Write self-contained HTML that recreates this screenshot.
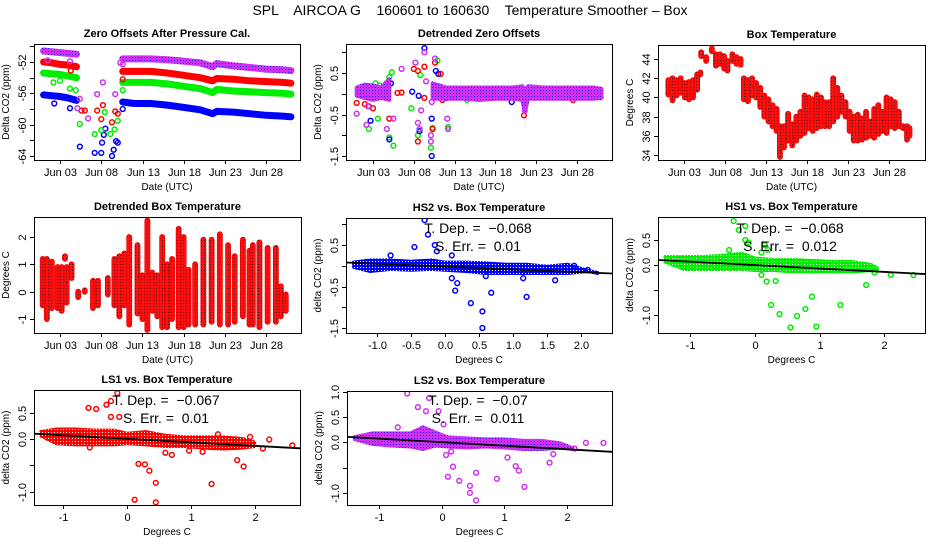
<!DOCTYPE html>
<html><head><meta charset="utf-8"><style>
html,body{margin:0;padding:0;background:#fff}
svg{display:block;font-family:"Liberation Sans",sans-serif}
</style></head><body>
<svg id="chart" width="936" height="540" viewBox="0 0 936 540" xmlns="http://www.w3.org/2000/svg">
<defs>
<pattern id="pPurple" width="3" height="3" patternUnits="userSpaceOnUse"><rect width="3" height="3" fill="#d030f0"/><rect width="1" height="1" fill="#2020ff"/></pattern>
<pattern id="pRedDark" width="3" height="3" patternUnits="userSpaceOnUse"><rect width="3" height="3" fill="#ff1010"/><rect width="1" height="1" fill="#300"/></pattern>
<pattern id="pBlue" width="3" height="3" patternUnits="userSpaceOnUse"><rect width="3" height="3" fill="#0000ff"/><rect width="1" height="1" fill="#fff"/></pattern>
<pattern id="pGreen" width="3" height="3" patternUnits="userSpaceOnUse"><rect width="3" height="3" fill="#00ee00"/><rect width="1" height="1" fill="#fff"/></pattern>
<pattern id="pRed" width="3" height="3" patternUnits="userSpaceOnUse"><rect width="3" height="3" fill="#ff0000"/><rect width="1" height="1" fill="#fff"/></pattern>
<pattern id="pMag" width="3" height="3" patternUnits="userSpaceOnUse"><rect width="3" height="3" fill="#d030f0"/><rect width="1" height="1" fill="#2020ff"/></pattern>
</defs>
<text x="470" y="15" font-size="14" text-anchor="middle" style="white-space:pre">SPL    AIRCOA G    160601 to 160630    Temperature Smoother – Box</text>
</svg>
<script>
// ---------- Panel 1: Zero offsets ----------
const p1Days1 = [1, 2, 3, 4, 5];
const p1Days2 = [10.6, 12, 14, 16, 18, 20, 21.5, 22, 24, 26, 28, 30, 31];
const p1Purple1 = [-50.6, -50.7, -50.8, -50.9, -51.0];
const p1Purple2 = [-51.6, -51.6, -51.6, -51.7, -51.9, -52.1, -52.6, -52.2, -52.5, -52.7, -52.9, -53.0, -53.1];
const p1Red1 = [-52.0, -52.1, -52.3, -52.4, -52.6];
const p1Red2 = [-53.2, -53.2, -53.2, -53.4, -53.7, -54.0, -54.4, -54.1, -54.2, -54.4, -54.5, -54.6, -54.7];
const p1Green1 = [-53.4, -53.5, -53.6, -53.8, -54.0];
const p1Green2 = [-54.6, -54.6, -54.6, -54.8, -55.1, -55.4, -55.9, -55.5, -55.7, -55.8, -55.9, -56.0, -56.1];
const p1Blue1 = [-56.2, -56.3, -56.4, -56.6, -56.9];
const p1Blue2 = [-57.1, -57.3, -57.3, -57.5, -57.8, -58.1, -58.6, -58.3, -58.4, -58.6, -58.8, -58.9, -59.0];
const p1PurpleOutD = [1.5, 4.2, 5.1, 5.4, 6.4, 7.5, 8.2, 9.7, 10.3, 10.6];
const p1PurpleOutV = [-51.8, -51.9, -57.9, -56.7, -59.2, -56.1, -54.6, -56.1, -52.1, -52.3];
const p1RedOutD = [4.3, 5.6, 6.0, 7.5, 8.0, 8.2, 9.3, 9.7, 10.0, 10.6];
const p1RedOutV = [-53.1, -58.2, -58.2, -58.2, -59.3, -57.5, -59.7, -58.3, -58.6, -54.2];
const p1GreenOutD = [2.2, 3.0, 4.2, 4.9, 5.4, 7.2, 8.0, 8.4, 9.1, 9.6, 10.0, 10.6];
const p1GreenOutV = [-54.6, -54.4, -55.4, -55.6, -59.9, -61.2, -60.7, -58.4, -61.2, -60.6, -59.5, -55.6];
const p1BlueOutD = [2.3, 4.2, 5.4, 7.2, 8.0, 8.1, 8.3, 8.5, 9.3, 9.5, 9.8, 10.0, 10.6];
const p1BlueOutV = [-57.3, -57.9, -62.8, -63.6, -63.6, -62.3, -61.3, -60.5, -64.0, -63.2, -62.1, -62.3, -58.0];
// ---------- Panel 2: detrended zero offsets ----------
const p2BandDays = [1, 2, 3, 4, 5, null, 10.3, 12, 14, 16, 18, 20, 21.3, 21.6, 22, 24, 26, 28, 30, 31];
const p2BandLo = [-0.05, -0.1, -0.15, -0.1, -0.15, null, -0.12, -0.12, -0.12, -0.15, -0.12, -0.12, -0.15, -0.45, -0.12, -0.12, -0.12, -0.12, -0.12, -0.1];
const p2BandHi = [0.15, 0.22, 0.2, 0.15, 0.35, null, 0.25, 0.15, 0.15, 0.15, 0.15, 0.15, 0.18, 0.1, 0.18, 0.15, 0.15, 0.15, 0.15, 0.12];
const p2RedD = [1.0, 2.0, 2.5, 3.0, 5.0, 6.0, 6.5, 8.0, 8.5, 8.5, 9.3, 9.3, 10.3, 10.5, 10.6, 11.3, 11.5, 21.5, 24, 27.5];
const p2RedV = [-0.22, -0.25, -0.3, -0.35, -0.6, 0.02, 0.03, 0.6, 0.55, -1.15, 0.65, -0.1, -0.85, 0.05, 0.75, 0.48, -0.15, -0.52, 0.0, -0.15];
const p2GreenD = [2.5, 3.3, 3.8, 3.6, 5.0, 5.3, 5.0, 5.5, 7.7, 8.8, 8.5, 10.1, 10.3, 10.9, 12.2, 14.5];
const p2GreenV = [-0.85, 0.25, 0.2, -0.6, 0.4, 0.52, -1.05, -1.25, -0.35, 0.45, -1.0, -1.3, -0.82, 0.8, -0.8, -0.15];
const p2BlueD = [2.7, 5.0, 5.2, 7.8, 8.6, 8.7, 9.3, 10.2, 10.2, 10.7, 11.0, 12.0, 20];
const p2BlueV = [-0.65, -1.1, 0.25, 0.05, -0.05, -0.9, 1.1, -1.5, -0.6, 0.55, 0.48, -0.1, -0.2];
const p2PurpleD = [1.0, 2.2, 2.4, 4.7, 5.5, 6.5, 8.2, 8.5, 8.7, 8.9, 9.3, 9.5, 10.1, 10.1, 10.2, 10.6, 12.1, 12.2, 21.6];
const p2PurpleV = [-0.48, -0.75, -0.3, -0.85, -0.6, 0.6, 0.75, -0.7, -0.85, -0.4, 1.0, 0.3, -1.0, -1.15, -0.2, 0.85, -0.6, -0.85, -0.4];
// ---------- Panel 3: box temperature ----------
const p3Days = [1.1,1.6,2.1,2.6,3.1,3.6,4.1,4.6,5.0,5.1,5.7,6.4,6.9,7.4,7.9,8.3,8.9,9.4,9.9,10.3,10.8,11.3,11.8,12.3,12.8,13.3,13.8,14.3,14.7,15.2,15.7,16.2,16.7,17.2,17.7,18.2,18.7,19.2,19.7,20.2,20.7,21.2,21.7,22.2,22.7,23.2,23.7,24.2,24.7,25.2,25.7,26.2,26.7,27.2,27.7,28.2,28.7,29.2,29.7,30.2,30.5];
const p3Lo = [40.3,39.7,40.2,40.5,40.0,39.8,40.0,40.8,42.4,44.3,43.8,44.8,43.3,43.5,43.0,42.8,43.8,43.5,43.4,39.8,39.6,40.2,40.0,39.0,38.0,37.5,37.0,36.5,33.8,34.8,35.5,35.0,35.5,36.0,36.3,36.8,36.5,36.8,37.0,37.0,37.0,37.5,38.0,38.5,38.0,36.5,35.5,35.5,35.6,35.8,36.0,35.8,36.2,36.5,36.3,37.0,36.8,37.0,36.8,35.6,36.0];
const p3Hi = [41.8,42.0,41.8,42.0,41.5,41.6,41.8,42.4,42.6,44.7,44.2,45.1,44.5,44.5,44.3,43.8,44.5,44.2,44.0,42.0,41.8,42.0,41.5,41.0,40.2,39.8,39.2,38.8,37.0,37.0,38.3,37.2,38.0,38.5,40.2,40.0,39.8,40.3,40.0,39.5,39.5,42.0,41.0,40.2,39.5,38.5,38.0,38.2,37.8,38.5,37.5,38.8,39.2,38.5,40.0,39.8,39.5,38.5,37.0,37.0,36.8];
// ---------- Panel 4: detrended box temperature ----------
const p4Days = [0.9,1.4,2.0,2.7,3.2,3.6,3.8,4.4,5.2,6.0,7.0,7.6,8.8,9.6,10.2,10.8,11.4,12.4,13.0,13.6,14.2,14.8,15.4,16.0,16.6,17.4,18.0,18.6,19.4,20.4,21.4,22.4,23.4,24.2,25.2,26.0,26.4,27.2,28.2,29.2,29.8,30.4];
const p4Lo = [-0.5,-1.0,-0.6,-0.6,-0.7,1.2,-0.4,0.5,-0.2,0.0,-0.6,-0.5,-0.1,-0.5,-0.9,-0.5,-1.2,-0.8,-1.0,-1.4,-0.7,-0.9,-1.3,-1.3,-1.0,-1.3,-1.3,-1.2,-1.2,-1.2,-1.1,-1.2,-1.2,-1.1,-0.9,-1.2,-1.2,-1.3,-1.1,-1.1,-0.9,-0.7];
const p4Hi = [1.2,1.2,1.1,0.9,0.9,1.3,0.9,1.0,0.0,0.05,0.4,0.4,0.5,1.2,1.3,1.4,2.0,1.7,0.6,2.6,0.7,0.6,2.0,1.0,1.2,2.3,2.0,0.8,1.0,1.9,1.9,2.1,1.7,1.3,1.9,1.5,1.7,1.8,1.6,1.6,0.2,-0.1];
// ---------- Scatter panels ----------
const hs2BandX = [-1.35,-1.1,-0.8,-0.5,-0.2,0,0.3,0.6,0.9,1.2,1.5,1.8,2.1,2.25];
const hs2BandLo = [-0.05,-0.15,-0.1,-0.12,-0.1,-0.12,-0.15,-0.2,-0.2,-0.2,-0.2,-0.2,-0.15,-0.2];
const hs2BandHi = [0.1,0.15,0.15,0.12,0.15,0.1,0.1,0.08,0.05,0.05,0.0,0.05,-0.1,-0.15];
const hs2OutX = [-0.3,-0.25,-0.45,-0.15,-0.8,0.1,-0.12,0.1,0.15,0.18,0.38,0.55,0.55,0.68,1.2,1.15,1.62,1.9,2.1,0.6];
const hs2OutY = [1.1,0.75,0.45,0.5,0.25,0.25,0.35,-0.3,-0.6,-0.42,-0.9,-1.1,-1.5,-0.65,-0.75,-0.3,-0.35,0.0,-0.1,-0.25];
const hs1BandX = [-1.4,-1.1,-0.8,-0.5,-0.2,0,0.3,0.6,0.9,1.2,1.5,1.8,1.9];
const hs1BandLo = [0.05,-0.1,-0.1,-0.1,-0.1,-0.12,-0.12,-0.15,-0.15,-0.15,-0.15,-0.12,-0.1];
const hs1BandHi = [0.18,0.18,0.18,0.2,0.25,0.15,0.12,0.12,0.1,0.08,0.08,0.02,-0.05];
const hs1OutX = [-0.33,-0.25,-0.15,-0.15,-0.1,0.15,-0.4,0.2,0.1,0.1,0.18,0.32,0.25,0.38,0.55,0.65,0.78,0.88,0.95,1.32,1.72,2.1,2.45,1.85];
const hs1OutY = [0.88,0.7,0.78,0.5,0.45,0.4,0.3,0.3,0.25,-0.2,-0.33,-0.32,-0.8,-0.98,-1.25,-1.02,-0.88,-0.63,-1.23,-0.8,-0.4,-0.2,-0.2,-0.15];
const ls1BandX = [-1.35,-1.1,-0.8,-0.5,-0.2,0,0.3,0.6,0.9,1.2,1.5,1.8,2.0];
const ls1BandLo = [0.05,-0.1,-0.12,-0.12,-0.12,-0.1,-0.12,-0.15,-0.15,-0.18,-0.2,-0.18,-0.15];
const ls1BandHi = [0.15,0.2,0.2,0.18,0.18,0.12,0.15,0.08,0.05,0.05,0.05,0.02,-0.05];
const ls1OutX = [-0.15,-0.25,-0.32,-0.6,-0.48,-0.25,-0.12,0.18,0.28,0.35,0.45,0.12,0.45,1.32,1.72,1.82,0.6,0.7,0.97,1.18,2.12,2.22,2.58,1.42,1.92,-0.58];
const ls1OutY = [0.87,0.72,0.65,0.59,0.57,0.42,0.42,-0.47,-0.48,-0.6,-0.83,-1.15,-1.2,-0.85,-0.4,-0.52,-0.26,-0.3,-0.22,-0.24,-0.18,-0.01,-0.12,0.09,0.04,-0.16];
const ls2BandX = [-1.4,-1.1,-0.8,-0.5,-0.3,-0.1,0.1,0.4,0.7,1.0,1.3,1.6,1.9,2.1];
const ls2BandLo = [0.05,-0.05,-0.08,-0.1,-0.15,-0.08,-0.1,-0.12,-0.1,-0.12,-0.15,-0.15,-0.12,-0.15];
const ls2BandHi = [0.12,0.2,0.2,0.2,0.32,0.22,0.12,0.1,0.08,0.08,0.05,0.05,0.0,-0.1];
const ls2OutX = [-0.55,-0.38,-0.2,-0.25,-0.05,0.03,-0.7,0.07,0.15,0.18,0.1,0.28,0.45,0.45,0.55,0.55,0.88,1.05,1.18,1.23,1.32,1.72,1.78,2.3,2.58,2.12];
const ls2OutY = [0.97,0.7,0.88,0.62,0.62,0.36,0.3,-0.25,-0.18,-0.48,-0.68,-0.76,-0.86,-1.0,-0.6,-1.15,-0.72,-0.3,-0.47,-0.56,-0.88,-0.4,-0.23,-0.01,-0.01,-0.12];
const fitSlopes = [-0.068, -0.068, -0.067, -0.07];
const fitIntercepts = [-0.02, -0.002, 0.005, 0.005];
const fitLabels = ["−0.068", "−0.068", "−0.067", "−0.07"];
const errLabels = ["0.01", "0.012", "0.01", "0.011"];
const dateTicks = [3, 8, 13, 18, 23, 28];
const dateTickLabels = ["Jun 03", "Jun 08", "Jun 13", "Jun 18", "Jun 23", "Jun 28"];

const svg = document.getElementById('chart');
const NS = 'http://www.w3.org/2000/svg';
function mk(tag, attrs, parent) {
  const e = document.createElementNS(NS, tag);
  for (const k in attrs) e.setAttribute(k, attrs[k]);
  (parent || svg).appendChild(e);
  return e;
}
function panel(bx0, bx1, by0, by1, xmin, xmax, ymin, ymax) {
  return {bx0, bx1, by0, by1,
    sx: v => bx0 + (v - xmin) / (xmax - xmin) * (bx1 - bx0),
    sy: v => by1 - (v - ymin) / (ymax - ymin) * (by1 - by0)};
}
function frame(p, name, title, xlab, ylab, yTicks, yLabs, xTicks, xLabs) {
  const g = mk('g', {});
  
  
  const clip = mk('clipPath', {id: 'c-' + name}, g);
  mk('rect', {x: p.bx0, y: p.by0, width: p.bx1 - p.bx0, height: p.by1 - p.by0}, clip);
  const inner = mk('g', {'clip-path': 'url(#c-' + name + ')'}, g);
  
  
  const box = mk('rect', {x: p.bx0 + 0.5, y: p.by0 + 0.5, width: p.bx1 - p.bx0, height: p.by1 - p.by0, fill: 'none', stroke: '#000', 'stroke-width': 1});
  
  
  const t = mk('text', {x: (p.bx0 + p.bx1) / 2, y: p.by0 - 7, 'font-size': 11, 'font-weight': 'bold', 'text-anchor': 'middle'}, g);
  t.textContent = title;
  
  
  const xl = mk('text', {x: (p.bx0 + p.bx1) / 2, y: p.by1 + 30, 'font-size': 10, 'text-anchor': 'middle'}, g);
  xl.textContent = xlab;
  
  
  const yc = (p.by0 + p.by1) / 2;
  const yl = mk('text', {x: p.bx0 - 25, y: yc, 'font-size': 10, 'text-anchor': 'middle', transform: 'rotate(-90 ' + (p.bx0 - 25) + ' ' + yc + ')'}, g);
  yl.textContent = ylab;
  
  
  yTicks.forEach((v, i) => {
    const y = Math.round(p.sy(v)) + 0.5;
    mk('line', {x1: p.bx0 - 4, x2: p.bx0, y1: y, y2: y, stroke: '#000'}, g);
    if (yLabs[i] !== '') {
      const tx = mk('text', {x: p.bx0 - 8, y: y, 'font-size': 11, 'text-anchor': 'middle', transform: 'rotate(-90 ' + (p.bx0 - 8) + ' ' + y + ')'}, g);
      tx.textContent = yLabs[i];
      
      
    }
  });
  xTicks.forEach((v, i) => {
    const x = Math.round(p.sx(v)) + 0.5;
    mk('line', {x1: x, x2: x, y1: p.by1, y2: p.by1 + 4, stroke: '#000'}, g);
    const tx = mk('text', {x: x, y: p.by1 + 16, 'font-size': 11, 'text-anchor': 'middle'}, g);
    tx.textContent = xLabs[i];
    
    
  });
  return inner;
}
function dots(g, p, xs, ys, color, name) {
  xs.forEach((x, i) => {
    const c = mk('circle', {cx: p.sx(x), cy: p.sy(ys[i]), r: 2.4, fill: 'none', stroke: color, 'stroke-width': 1.5}, g);
    
    
  });
}
function thick(g, p, xs, ys, color, w, name) {
  const pts = xs.map((x, i) => p.sx(x).toFixed(1) + ',' + p.sy(ys[i]).toFixed(1)).join(' ');
  const l = mk('polyline', {points: pts, fill: 'none', stroke: color, 'stroke-width': w, 'stroke-linejoin': 'round', 'stroke-linecap': 'round'}, g);
  
  
  dots(g, p, xs, ys, color, name + '-point');
}
function band(g, p, xs, lo, hi, fill, name, sw) {
  let segs = [[]];
  xs.forEach((x, i) => { if (x === null) segs.push([]); else segs[segs.length - 1].push(i); });
  segs.forEach(s => {
    if (!s.length) return;
    const top = s.map(i => p.sx(xs[i]).toFixed(1) + ',' + p.sy(hi[i]).toFixed(1));
    const bot = s.slice().reverse().map(i => p.sx(xs[i]).toFixed(1) + ',' + p.sy(lo[i]).toFixed(1));
    const pg = mk('polygon', {points: top.concat(bot).join(' '), fill: fill, stroke: fill, 'stroke-width': sw, 'stroke-linejoin': 'round'}, g);
    
    
  });
}
function columns(g, p, xs, lo, hi, fill, name) {
  xs.forEach((x, i) => {
    const y1 = p.sy(hi[i]), y2 = p.sy(lo[i]);
    const r = mk('rect', {x: p.sx(x) - 2.5, y: y1 - 2.5, width: 5, height: Math.max(5, y2 - y1 + 5), rx: 2.5, fill: fill, stroke: '#e00', 'stroke-width': 0.8}, g);
    
    
  });
}

// Panel 1
const P1 = panel(34, 300, 44, 160, -0.16, 32.1, -64.51, -49.70);
let g = frame(P1, 'zero-offsets-panel', 'Zero Offsets After Pressure Cal.', 'Date (UTC)', 'Delta CO2 (ppm)',
  [-64, -62, -60, -58, -56, -54, -52, -50], ['-64', '', '-60', '', '-56', '', '-52', ''], dateTicks, dateTickLabels);
thick(g, P1, p1Days1, p1Blue1, '#0000ff', 7, 'hs2-series');
thick(g, P1, p1Days2, p1Blue2, '#0000ff', 7, 'hs2-series');
thick(g, P1, p1Days1, p1Green1, '#00ee00', 7, 'hs1-series');
thick(g, P1, p1Days2, p1Green2, '#00ee00', 7, 'hs1-series');
thick(g, P1, p1Days1, p1Red1, '#ff0000', 7, 'ls1-series');
thick(g, P1, p1Days2, p1Red2, '#ff0000', 7, 'ls1-series');
thick(g, P1, p1Days1, p1Purple1, 'url(#pPurple)', 7, 'ls2-series');
thick(g, P1, p1Days2, p1Purple2, 'url(#pPurple)', 7, 'ls2-series');
dots(g, P1, p1BlueOutD, p1BlueOutV, '#0000ff', 'hs2-outlier');
dots(g, P1, p1GreenOutD, p1GreenOutV, '#00ee00', 'hs1-outlier');
dots(g, P1, p1RedOutD, p1RedOutV, '#ff0000', 'ls1-outlier');
dots(g, P1, p1PurpleOutD, p1PurpleOutV, '#d030f0', 'ls2-outlier');

// Panel 2
const P2 = panel(346, 612, 44, 160, -0.31, 32.29, -1.596, 1.199);
g = frame(P2, 'detrended-offsets-panel', 'Detrended Zero Offsets', 'Date (UTC)', 'Delta CO2 (ppm)',
  [-1.5, -1, -0.5, 0, 0.5, 1], ['-1.5', '', '-0.5', '', '0.5', ''], dateTicks, dateTickLabels);
dots(g, P2, p2GreenD, p2GreenV, '#00ee00', 'hs1-outlier');
dots(g, P2, p2BlueD, p2BlueV, '#0000ff', 'hs2-outlier');
dots(g, P2, p2RedD, p2RedV, '#ff0000', 'ls1-outlier');
band(g, P2, p2BandDays, p2BandLo, p2BandHi, 'url(#pPurple)', 'detrended-band', 4);
dots(g, P2, p2PurpleD, p2PurpleV, '#d030f0', 'ls2-outlier');

// Panel 3
const P3 = panel(658, 925, 45, 160, -0.17, 32.39, 33.48, 45.46);
g = frame(P3, 'box-temperature-panel', 'Box Temperature', 'Date (UTC)', 'Degrees C',
  [34, 36, 38, 40, 42, 44], ['34', '36', '38', '40', '42', '44'], dateTicks, dateTickLabels);
columns(g, P3, p3Days, p3Lo, p3Hi, 'url(#pRedDark)', 'box-temp-column');

// Panel 4
const P4 = panel(34, 301, 217, 333, -0.16, 32.25, -1.51, 2.73);
g = frame(P4, 'detrended-box-temp-panel', 'Detrended Box Temperature', 'Date (UTC)', 'Degrees C',
  [-1, 0, 1, 2], ['-1', '0', '1', '2'], dateTicks, dateTickLabels);
columns(g, P4, p4Days, p4Lo, p4Hi, 'url(#pRedDark)', 'detrended-temp-column');

// Scatter panels
function scatterPanel(idx, P, name, title, yT, yL, xT, xL, bx, blo, bhi, ox, oy, fill, color, ax, ay) {
  const gg = frame(P, name, title, 'Degrees C', 'delta CO2 (ppm)', yT, yL, xT, xL);
  band(gg, P, bx, blo, bhi, fill, name + '-cloud', 2);
  dots(gg, P, ox, oy, color, name + '-point');
  const xa = -3, xb = 3;
  const ln = mk('line', {x1: P.sx(xa), y1: P.sy(fitIntercepts[idx] + fitSlopes[idx] * xa), x2: P.sx(xb), y2: P.sy(fitIntercepts[idx] + fitSlopes[idx] * xb), stroke: '#000', 'stroke-width': 1.8}, gg);
  
  
  const t1 = mk('text', {x: ax, y: ay, 'font-size': 14, 'text-anchor': 'middle', style: 'white-space:pre'});
  t1.textContent = 'T. Dep. =  ' + fitLabels[idx];
  
  
  const t2 = mk('text', {x: ax, y: ay + 18, 'font-size': 14, 'text-anchor': 'middle', style: 'white-space:pre'});
  t2.textContent = 'S. Err. =  ' + errLabels[idx];
  
  
}
const P5 = panel(346, 612, 218, 333, -1.456, 2.456, -1.62, 1.15);
scatterPanel(0, P5, 'hs2-vs-temp-panel', 'HS2 vs. Box Temperature', [-1.5, -1, -0.5, 0, 0.5, 1], ['-1.5', '', '-0.5', '', '0.5', ''],
  [-1, -0.5, 0, 0.5, 1, 1.5, 2], ['-1.0', '-0.5', '0.0', '0.5', '1.0', '1.5', '2.0'], hs2BandX, hs2BandLo, hs2BandHi, hs2OutX, hs2OutY, 'url(#pBlue)', '#0000ff', 478, 233);
const P6 = panel(658, 925, 217, 333, -1.5, 2.63, -1.36, 0.96);
scatterPanel(1, P6, 'hs1-vs-temp-panel', 'HS1 vs. Box Temperature', [-1, -0.5, 0, 0.5], ['-1.0', '', '0.0', '0.5'],
  [-1, 0, 1, 2], ['-1', '0', '1', '2'], hs1BandX, hs1BandLo, hs1BandHi, hs1OutX, hs1OutY, 'url(#pGreen)', '#00ee00', 790, 233);
const P7 = panel(34, 300, 390, 505, -1.45, 2.70, -1.25, 0.93);
scatterPanel(2, P7, 'ls1-vs-temp-panel', 'LS1 vs. Box Temperature', [-1, -0.5, 0, 0.5], ['-1.0', '', '0.0', '0.5'],
  [-1, 0, 1, 2], ['-1', '0', '1', '2'], ls1BandX, ls1BandLo, ls1BandHi, ls1OutX, ls1OutY, 'url(#pRed)', '#ff0000', 166, 405);
const P8 = panel(347, 612, 391, 505, -1.51, 2.716, -1.24, 1.02);
scatterPanel(3, P8, 'ls2-vs-temp-panel', 'LS2 vs. Box Temperature', [-1, -0.5, 0, 0.5, 1], ['-1.0', '', '0.0', '0.5', '1.0'],
  [-1, 0, 1, 2], ['-1', '0', '1', '2'], ls2BandX, ls2BandLo, ls2BandHi, ls2OutX, ls2OutY, 'url(#pMag)', '#d030f0', 478, 405);
</script>
</body></html>
